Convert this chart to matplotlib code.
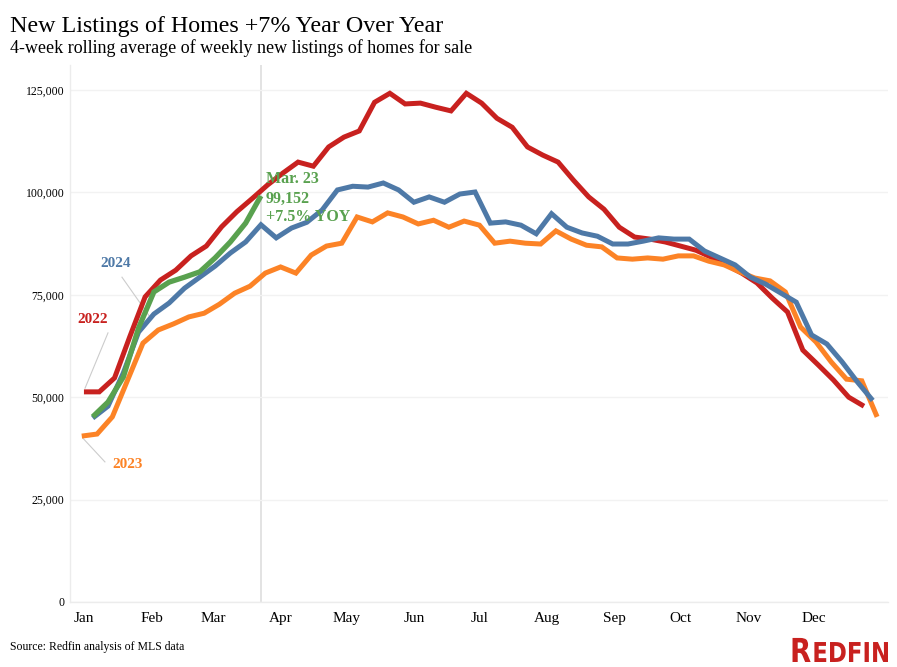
import numpy as np
import matplotlib.pyplot as plt
from matplotlib.ticker import FuncFormatter
from matplotlib.textpath import TextPath
from matplotlib.font_manager import FontProperties
from matplotlib.patches import PathPatch
from matplotlib.transforms import Affine2D

# weekly 4-week rolling average of new listings
vals_2022 = [51300, 51300, 54700, 64800, 74500, 78600, 81000, 84500, 86900, 91600,
             95300, 98500, 101800, 104700, 107400, 106400, 111100, 113500, 115000, 122000,
             124200, 121600, 121800, 120800, 119900, 124200, 121800, 118100, 115900, 111100,
             109100, 107400, 103000, 98900, 95900, 91500, 89100, 88600, 87900, 86900,
             85900, 84200, 82300, 80300, 77900, 74200, 70800, 61500, 57900, 54200,
             50000, 47800]
vals_2023 = [40500, 41000, 45200, 54200, 63200, 66400, 67900, 69600, 70500, 72700,
             75400, 77100, 80300, 81800, 80300, 84700, 86900, 87600, 94000, 92800,
             95000, 94000, 92300, 93200, 91500, 93000, 92000, 87600, 88100, 87600,
             87400, 90600, 88600, 87100, 86700, 84000, 83700, 84000, 83700, 84500,
             84500, 83200, 82300, 80600, 79100, 78400, 75700, 67100, 63500, 58600,
             54400, 54000, 45200]
vals_2024 = [44900, 47800, 55900, 65900, 70300, 73000, 76600, 79300, 82000, 85200,
             87900, 92100, 88900, 91300, 92700, 95700, 100600, 101500, 101300, 102300,
             100600, 97600, 98900, 97600, 99600, 100100, 92500, 92800, 92000, 89900,
             94800, 91500, 90100, 89300, 87400, 87400, 88100, 88900, 88600, 88600,
             85700, 84000, 82300, 79300, 77600, 75400, 73200, 65200, 63000, 58600,
             53700, 49200]
vals_2025 = [45200, 48800, 54900, 66900, 75700, 78100, 79300, 80600, 84000, 87900,
             92500, 99152]

# first week position, in days from Jan 1 (years aligned by weekday)
start_day = {'2022': 0, '2023': -1, '2024': 4, '2025': 4}
series = {'2022': vals_2022, '2023': vals_2023, '2024': vals_2024, '2025': vals_2025}
colors = {'2022': '#C8211F', '2023': '#FC8326', '2024': '#4E79A7', '2025': '#59A14F'}

months = ['Jan', 'Feb', 'Mar', 'Apr', 'May', 'Jun', 'Jul', 'Aug', 'Sep', 'Oct', 'Nov', 'Dec']
month_days = [0, 31, 59, 90, 120, 151, 181, 212, 243, 273, 304, 334]
y_ticks = [0, 25000, 50000, 75000, 100000, 125000]
latest_day = 81  # Mar. 23

serif = 'Liberation Serif'
plt.rcParams['font.family'] = serif

fig = plt.figure(figsize=(8.97, 6.67), dpi=100)
ax = fig.add_axes([0.078, 0.0975, 0.912, 0.805])

for yr in ['2022', '2023', '2024', '2025']:
    v = series[yr]
    x = start_day[yr] + 7 * np.arange(len(v))
    ax.plot(x, v, color=colors[yr], lw=3.8 if yr == '2025' else 3.6,
            solid_joinstyle='miter', solid_capstyle='butt', zorder=3)

ax.axvline(latest_day, color='#e3e3e3', lw=1.4, zorder=1)

ax.set_xlim(-6.4, 368)
ax.set_ylim(0, 131100)
ax.set_yticks(y_ticks)
ax.yaxis.set_major_formatter(FuncFormatter(lambda v, p: f'{int(v):,}'))
ax.set_xticks(month_days)
ax.set_xticklabels(months)
ax.grid(axis='y', color='#f2f2f2', lw=1, zorder=0)
ax.tick_params(axis='y', length=0, pad=4, labelsize=8.5)
ax.tick_params(axis='x', length=0, pad=7, labelsize=11)
for s in ['top', 'right']:
    ax.spines[s].set_visible(False)
for s in ['left', 'bottom']:
    ax.spines[s].set_color('#ececec')
    ax.spines[s].set_linewidth(1)

# series labels with leader lines
lab_kw = dict(fontsize=11, fontweight='bold', ha='center', va='baseline')
ax.text(14.5, 81800, '2024', color=colors['2024'], **lab_kw)
ax.plot([17.4, 30.2], [79300, 69600], color='#cccccc', lw=0.8, zorder=2)
ax.text(3.9, 68100, '2022', color=colors['2022'], **lab_kw)
ax.plot([11, 0.5], [65700, 52200], color='#cccccc', lw=0.8, zorder=2)
ax.text(19.9, 32700, '2023', color=colors['2023'], **lab_kw)
ax.plot([-0.5, 9.6], [40000, 34200], color='#cccccc', lw=0.8, zorder=2)

ax.text(83.3, 102300, 'Mar. 23', color=colors['2025'], fontsize=11.5,
        fontweight='bold', va='baseline', zorder=4)
ax.text(83.3, 97400, f'{vals_2025[-1]:,}', color=colors['2025'], fontsize=11.5,
        fontweight='bold', va='baseline', zorder=4)
ax.text(83.3, 93000, '+7.5% YOY', color=colors['2025'], fontsize=11.5,
        fontweight='bold', va='baseline', zorder=4)

fig.text(10 / 897, 1 - 31.7 / 667, 'New Listings of Homes +7% Year Over Year',
         fontsize=17.3, va='baseline', ha='left')
fig.text(10 / 897, 1 - 53.3 / 667,
         '4-week rolling average of weekly new listings of homes for sale',
         fontsize=13, va='baseline', ha='left')
fig.text(10 / 897, 1 - 650 / 667, 'Source: Redfin analysis of MLS data',
         fontsize=8.5, va='baseline', ha='left')

# logo, drawn as squeezed text paths in pixel coordinates
logo_fp = FontProperties(family='DejaVu Sans', weight='bold')
big = TextPath((0, 0), 'R', size=33, prop=logo_fp)
small = TextPath((0, 0), 'EDFIN', size=27.4, prop=logo_fp)
big_w = big.get_extents().x1
small_w = small.get_extents().x1
sx = 98 / (big_w + small_w + 2)
for path, x0 in [(big, 790), (small, 790 + (big_w + 2) * sx)]:
    tr = Affine2D().scale(sx, 1).translate(x0, 667 - 662)
    fig.patches.append(PathPatch(tr.transform_path(path), color='#C8211F', lw=0,
                                 transform=None, figure=fig))

fig.savefig('out.png', dpi=100)
